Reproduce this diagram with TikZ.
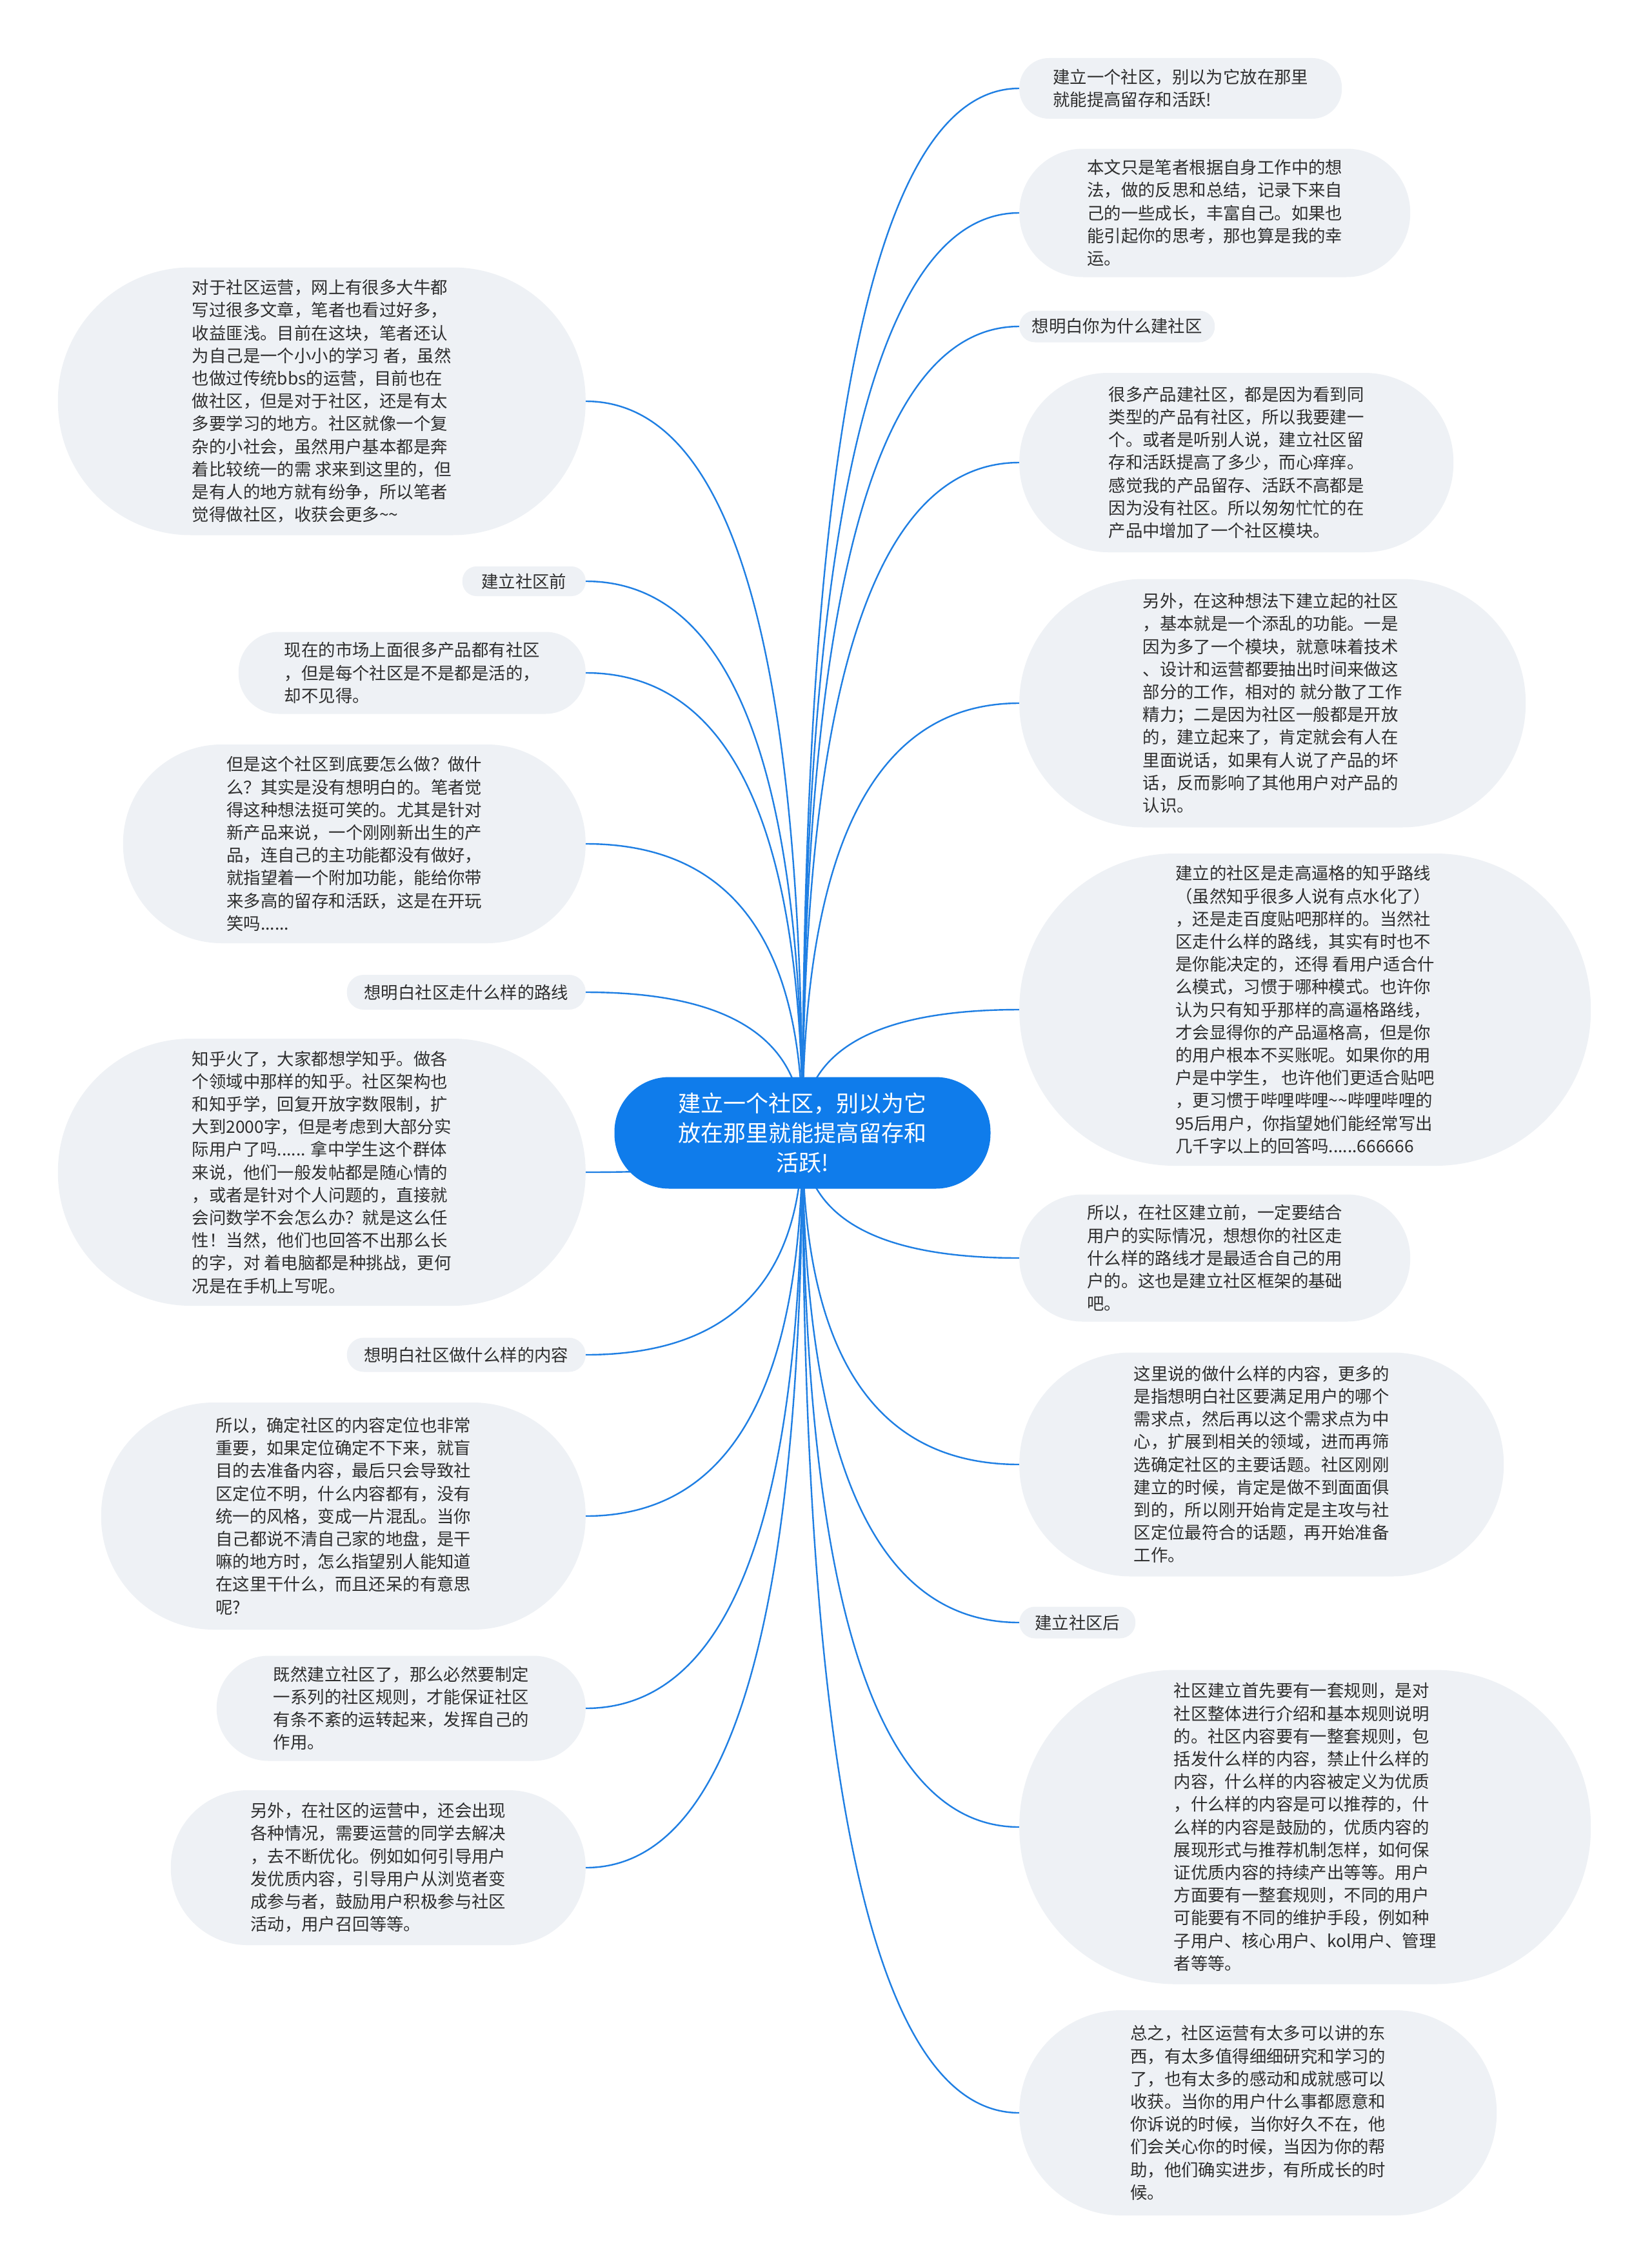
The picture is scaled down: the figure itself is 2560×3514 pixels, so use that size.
\documentclass[tikz,border=0pt]{standalone}
\usepackage{fontspec}
\newfontfamily\cjk{Noto Sans CJK SC}
\usetikzlibrary{calc,backgrounds}
\definecolor{linkblue}{HTML}{1F7FE3}
\definecolor{rootblue}{HTML}{0F7CEB}
\definecolor{leafgray}{HTML}{EEF1F5}
\definecolor{txtgray}{HTML}{2E2E2E}
\newcommand\linkto[1]{\draw[linkline] (C.center) .. controls ($(C.center)!0.667!(C.center |- #1)$) and ($(#1)!0.667!(C.center |- #1)$) .. (#1);}
\begin{document}
\begin{tikzpicture}[x=1pt,y=-1pt,
  leaf/.style={rectangle, fill=leafgray, draw=none, inner sep=0pt,
    align=left, text=txtgray, font=\cjk\fontsize{26.4}{35.2}\selectfont},
  box/.style n args={3}{minimum width=#1pt, minimum height=#2pt, rounded corners=#3pt},
  lnode/.style={leaf, anchor=east},
  rnode/.style={leaf, anchor=west},
  root/.style={rectangle, rounded corners=85pt, fill=rootblue, draw=none, text=white, align=center,
    font=\cjk\fontsize{35}{46}\selectfont, minimum width=583pt, minimum height=173pt},
  linkline/.style={draw=linkblue, line width=2.4pt}]
\useasboundingbox (0,0) rectangle (2560,3514);

\node[root] (C) at (1244,1756) {建立一个社区，别以为它\\放在那里就能提高留存和\\活跃!};

% left side
\node[lnode, box={818}{415}{206}] (L1) at (908,622) {对于社区运营，网上有很多大牛都\\写过很多文章，笔者也看过好多，\\收益匪浅。目前在这块，笔者还认\\为自己是一个小小的学习 者，虽然\\也做过传统bbs的运营，目前也在\\做社区，但是对于社区，还是有太\\多要学习的地方。社区就像一个复\\杂的小社会，虽然用户基本都是奔\\着比较统一的需 求来到这里的，但\\是有人的地方就有纷争，所以笔者\\觉得做社区，收获会更多\textasciitilde\textasciitilde};
\node[lnode, box={191}{46}{22}] (L2) at (908,901) {建立社区前};
\node[lnode, box={538}{127}{62}] (L3) at (908,1043) {现在的市场上面很多产品都有社区\\，但是每个社区是不是都是活的，\\却不见得。};
\node[lnode, box={717}{308}{153}] (L4) at (908,1308) {但是这个社区到底要怎么做？做什\\么？其实是没有想明白的。笔者觉\\得这种想法挺可笑的。尤其是针对\\新产品来说，一个刚刚新出生的产\\品，连自己的主功能都没有做好，\\就指望着一个附加功能，能给你带\\来多高的留存和活跃，这是在开玩\\笑吗......};
\node[lnode, box={370}{54}{26}] (L5) at (908,1538) {想明白社区走什么样的路线};
\node[lnode, box={818}{414}{206}] (L6) at (908,1817) {知乎火了，大家都想学知乎。做各\\个领域中那样的知乎。社区架构也\\和知乎学，回复开放字数限制，扩\\大到2000字，但是考虑到大部分实\\际用户了吗...... 拿中学生这个群体\\来说，他们一般发帖都是随心情的\\，或者是针对个人问题的，直接就\\会问数学不会怎么办？就是这么任\\性！当然，他们也回答不出那么长\\的字，对 着电脑都是种挑战，更何\\况是在手机上写呢。};
\node[lnode, box={370}{53}{26}] (L7) at (908,2100) {想明白社区做什么样的内容};
\node[lnode, box={751}{352}{175}] (L8) at (908,2350) {所以，确定社区的内容定位也非常\\重要，如果定位确定不下来，就盲\\目的去准备内容，最后只会导致社\\区定位不明，什么内容都有，没有\\统一的风格，变成一片混乱。当你\\自己都说不清自己家的地盘，是干\\嘛的地方时，怎么指望别人能知道\\在这里干什么，而且还呆的有意思\\呢?};
\node[lnode, box={572}{163}{81}] (L9) at (908,2648) {既然建立社区了，那么必然要制定\\一系列的社区规则，才能保证社区\\有条不紊的运转起来，发挥自己的\\作用。};
\node[lnode, box={643}{240}{119}] (L10) at (908,2895) {另外，在社区的运营中，还会出现\\各种情况，需要运营的同学去解决\\，去不断优化。例如如何引导用户\\发优质内容，引导用户从浏览者变\\成参与者，鼓励用户积极参与社区\\活动，用户召回等等。};

% right side
\node[rnode, box={500}{94}{46}] (R1) at (1580,137) {建立一个社区，别以为它放在那里\\就能提高留存和活跃!};
\node[rnode, box={606}{199}{99}] (R2) at (1580,330) {本文只是笔者根据自身工作中的想\\法，做的反思和总结，记录下来自\\己的一些成长，丰富自己。如果也\\能引起你的思考，那也算是我的幸\\运。};
\node[rnode, box={303}{49}{24}] (R3) at (1580,506) {想明白你为什么建社区};
\node[rnode, box={673}{278}{138}] (R4) at (1580,717) {很多产品建社区，都是因为看到同\\类型的产品有社区，所以我要建一\\个。或者是听别人说，建立社区留\\存和活跃提高了多少，而心痒痒。\\感觉我的产品留存、活跃不高都是\\因为没有社区。所以匆匆忙忙的在\\产品中增加了一个社区模块。};
\node[rnode, box={785}{385}{192}] (R5) at (1580,1090) {另外，在这种想法下建立起的社区\\，基本就是一个添乱的功能。一是\\因为多了一个模块，就意味着技术\\、设计和运营都要抽出时间来做这\\部分的工作，相对的 就分散了工作\\精力；二是因为社区一般都是开放\\的，建立起来了，肯定就会有人在\\里面说话，如果有人说了产品的坏\\话，反而影响了其他用户对产品的\\认识。};
\node[rnode, box={886}{484}{241}] (R6) at (1580,1565) {建立的社区是走高逼格的知乎路线\\（虽然知乎很多人说有点水化了）\\，还是走百度贴吧那样的。当然社\\区走什么样的路线，其实有时也不\\是你能决定的，还得 看用户适合什\\么模式，习惯于哪种模式。也许你\\认为只有知乎那样的高逼格路线，\\才会显得你的产品逼格高，但是你\\的用户根本不买账呢。如果你的用\\户是中学生， 也许他们更适合贴吧\\，更习惯于哔哩哔哩\textasciitilde\textasciitilde 哔哩哔哩的\\95后用户，你指望她们能经常写出\\几千字以上的回答吗......666666};
\node[rnode, box={606}{197}{98}] (R7) at (1580,1950) {所以，在社区建立前，一定要结合\\用户的实际情况，想想你的社区走\\什么样的路线才是最适合自己的用\\户的。这也是建立社区框架的基础\\吧。};
\node[rnode, box={751}{347}{173}] (R8) at (1580,2270) {这里说的做什么样的内容，更多的\\是指想明白社区要满足用户的哪个\\需求点，然后再以这个需求点为中\\心，扩展到相关的领域，进而再筛\\选确定社区的主要话题。社区刚刚\\建立的时候，肯定是做不到面面俱\\到的，所以刚开始肯定是主攻与社\\区定位最符合的话题，再开始准备\\工作。};
\node[rnode, box={180}{49}{24}] (R9) at (1580,2515) {建立社区后};
\node[rnode, box={886}{487}{242}] (R10) at (1580,2832) {社区建立首先要有一套规则，是对\\社区整体进行介绍和基本规则说明\\的。社区内容要有一整套规则，包\\括发什么样的内容，禁止什么样的\\内容，什么样的内容被定义为优质\\，什么样的内容是可以推荐的，什\\么样的内容是鼓励的，优质内容的\\展现形式与推荐机制怎样，如何保\\证优质内容的持续产出等等。用户\\方面要有一整套规则，不同的用户\\可能要有不同的维护手段，例如种\\子用户、核心用户、kol用户、管理\\者等等。};
\node[rnode, box={740}{318}{158}] (R11) at (1580,3275) {总之，社区运营有太多可以讲的东\\西，有太多值得细细研究和学习的\\了，也有太多的感动和成就感可以\\收获。当你的用户什么事都愿意和\\你诉说的时候，当你好久不在，他\\们会关心你的时候，当因为你的帮\\助，他们确实进步，有所成长的时\\候。};

\begin{pgfonlayer}{background}
\fill[white] (0,0) rectangle (2560,3514);
\linkto{L1.east}\linkto{L2.east}\linkto{L3.east}\linkto{L4.east}\linkto{L5.east}
\linkto{L6.east}\linkto{L7.east}\linkto{L8.east}\linkto{L9.east}\linkto{L10.east}
\linkto{R1.west}\linkto{R2.west}\linkto{R3.west}\linkto{R4.west}\linkto{R5.west}\linkto{R6.west}
\linkto{R7.west}\linkto{R8.west}\linkto{R9.west}\linkto{R10.west}\linkto{R11.west}
\end{pgfonlayer}
\end{tikzpicture}
\end{document}
